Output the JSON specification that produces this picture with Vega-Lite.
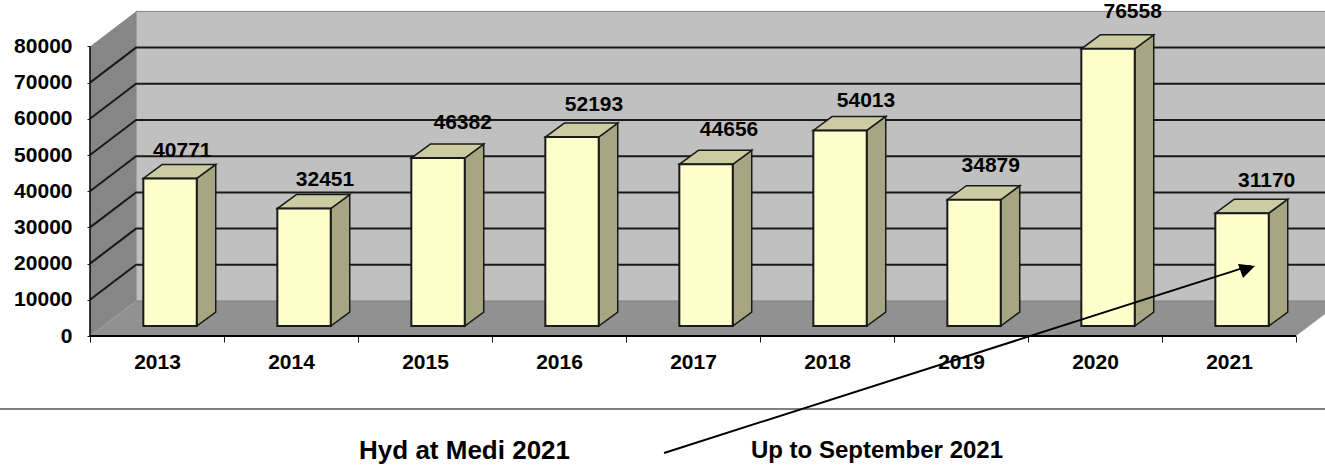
{
"$schema":"https://vega.github.io/schema/vega-lite/v6.json",
"width":1235,"height":336,
"autosize":{"type":"none"},
"padding":{"left":90,"top":0,"right":0,"bottom":131},
"background":"white",
"config":{"view":{"stroke":null},"text":{"font":"Liberation Sans"}},
"datasets":{
"bars":[{"year":2013,"x":0.398,"x2":0.7965,"y":40771,"y2":0},{"year":2014,"x":1.398,"x2":1.7965,"y":32451,"y2":0},{"year":2015,"x":2.398,"x2":2.7965,"y":46382,"y2":0},{"year":2016,"x":3.398,"x2":3.7965,"y":52193,"y2":0},{"year":2017,"x":4.398,"x2":4.7965,"y":44656,"y2":0},{"year":2018,"x":5.398,"x2":5.7965,"y":54013,"y2":0},{"year":2019,"x":6.398,"x2":6.7965,"y":34879,"y2":0},{"year":2020,"x":7.398,"x2":7.7965,"y":76558,"y2":0},{"year":2021,"x":8.398,"x2":8.7965,"y":31170,"y2":0}],
"sides":[
{"year":2013,"x":0.7965,"y":40771,"y2":0},{"year":2013,"x":0.9383,"y":44638,"y2":3867},
{"year":2014,"x":1.7965,"y":32451,"y2":0},{"year":2014,"x":1.9383,"y":36318,"y2":3867},
{"year":2015,"x":2.7965,"y":46382,"y2":0},{"year":2015,"x":2.9383,"y":50249,"y2":3867},
{"year":2016,"x":3.7965,"y":52193,"y2":0},{"year":2016,"x":3.9383,"y":56060,"y2":3867},
{"year":2017,"x":4.7965,"y":44656,"y2":0},{"year":2017,"x":4.9383,"y":48523,"y2":3867},
{"year":2018,"x":5.7965,"y":54013,"y2":0},{"year":2018,"x":5.9383,"y":57880,"y2":3867},
{"year":2019,"x":6.7965,"y":34879,"y2":0},{"year":2019,"x":6.9383,"y":38746,"y2":3867},
{"year":2020,"x":7.7965,"y":76558,"y2":0},{"year":2020,"x":7.9383,"y":80425,"y2":3867},
{"year":2021,"x":8.7965,"y":31170,"y2":0},{"year":2021,"x":8.9383,"y":35037,"y2":3867}],
"tops":[
{"year":2013,"y":40771,"x":0.398,"x2":0.7965},{"year":2013,"y":44638,"x":0.5398,"x2":0.9383},
{"year":2014,"y":32451,"x":1.398,"x2":1.7965},{"year":2014,"y":36318,"x":1.5398,"x2":1.9383},
{"year":2015,"y":46382,"x":2.398,"x2":2.7965},{"year":2015,"y":50249,"x":2.5398,"x2":2.9383},
{"year":2016,"y":52193,"x":3.398,"x2":3.7965},{"year":2016,"y":56060,"x":3.5398,"x2":3.9383},
{"year":2017,"y":44656,"x":4.398,"x2":4.7965},{"year":2017,"y":48523,"x":4.5398,"x2":4.9383},
{"year":2018,"y":54013,"x":5.398,"x2":5.7965},{"year":2018,"y":57880,"x":5.5398,"x2":5.9383},
{"year":2019,"y":34879,"x":6.398,"x2":6.7965},{"year":2019,"y":38746,"x":6.5398,"x2":6.9383},
{"year":2020,"y":76558,"x":7.398,"x2":7.7965},{"year":2020,"y":80425,"x":7.5398,"x2":7.9383},
{"year":2021,"y":31170,"x":8.398,"x2":8.7965},{"year":2021,"y":35037,"x":8.5398,"x2":8.9383}],
"grid":[
{"g":10000,"x":0,"y":10000},{"g":10000,"x":0.3433,"y":19669},{"g":10000,"x":9.3433,"y":19669},
{"g":20000,"x":0,"y":20000},{"g":20000,"x":0.3433,"y":29669},{"g":20000,"x":9.3433,"y":29669},
{"g":30000,"x":0,"y":30000},{"g":30000,"x":0.3433,"y":39669},{"g":30000,"x":9.3433,"y":39669},
{"g":40000,"x":0,"y":40000},{"g":40000,"x":0.3433,"y":49669},{"g":40000,"x":9.3433,"y":49669},
{"g":50000,"x":0,"y":50000},{"g":50000,"x":0.3433,"y":59669},{"g":50000,"x":9.3433,"y":59669},
{"g":60000,"x":0,"y":60000},{"g":60000,"x":0.3433,"y":69669},{"g":60000,"x":9.3433,"y":69669},
{"g":70000,"x":0,"y":70000},{"g":70000,"x":0.3433,"y":79669},{"g":70000,"x":9.3433,"y":79669}],
"labels":[
{"year":2013,"label":"40771","x":0.689,"y":51187},{"year":2014,"label":"32451","x":1.754,"y":43093},{"year":2015,"label":"46382","x":2.781,"y":58729},{"year":2016,"label":"52193","x":3.761,"y":63894},{"year":2017,"label":"44656","x":4.769,"y":56905},{"year":2018,"label":"54013","x":5.791,"y":65000},{"year":2019,"label":"34879","x":6.722,"y":46850},{"year":2020,"label":"76558","x":7.781,"y":89391},{"year":2021,"label":"31170","x":8.781,"y":42707}]
},
"encoding":{
"x":{"field":"x","type":"quantitative","scale":{"domain":[0,9.2164],"nice":false,"zero":false},
"axis":{"title":null,"grid":false,"domain":false,"values":[0,1,2,3,4,5,6,7,8,9],"ticks":true,"tickSize":6,"tickColor":"#1a1a1a","tickWidth":1,"labelOffset":67,"labelExpr":"datum.value<9 ? ''+(2013+datum.value) : ''","labelFont":"Liberation Sans","labelFontWeight":"bold","labelFontSize":21,"labelColor":"#000000","labelPadding":9,"labelBound":false,"labelFlush":false,"labelOverlap":false,"zindex":1}},
"y":{"field":"y","type":"quantitative","scale":{"domain":[0,92818],"nice":false,"zero":false},
"axis":{"title":null,"grid":false,"domain":false,"values":[0,10000,20000,30000,40000,50000,60000,70000,80000],"format":"d","tickSize":3,"tickColor":"#1a1a1a","tickWidth":1,"labelFont":"Liberation Sans","labelFontWeight":"bold","labelFontSize":21,"labelColor":"#000000","labelPadding":15,"labelOverlap":false,"zindex":1}}
},
"layer":[
{"data":{"values":[{"x":0,"x2":9,"y":0},{"x":0.3433,"x2":9.3433,"y":9669}]},"mark":{"type":"area","orient":"horizontal","fill":"#919191"},"encoding":{"x2":{"field":"x2"}}},
{"data":{"values":[{"x":0.3433,"x2":9.3433,"y":9669,"y2":89669}]},"mark":{"type":"rect","fill":"#c0c0c0","stroke":"#808080","strokeWidth":1},"encoding":{"x2":{"field":"x2"},"y2":{"field":"y2"}}},
{"data":{"values":[{"x":0,"y":80000,"y2":0},{"x":0.3433,"y":89669,"y2":9669}]},"mark":{"type":"area","fill":"#868686"},"encoding":{"y2":{"field":"y2"}}},
{"data":{"name":"grid"},"mark":{"type":"line","color":"#1a1a1a","strokeWidth":2},"encoding":{"detail":{"field":"g"}}},
{"data":{"values":[{"x":0,"y":0,"y2":80000}]},"mark":{"type":"rule","color":"#000000","strokeWidth":1.5},"encoding":{"y2":{"field":"y2"}}},
{"data":{"values":[{"x":0,"x2":9,"y":0}]},"mark":{"type":"rule","color":"#000000","strokeWidth":2},"encoding":{"x2":{"field":"x2"}}},
{"data":{"name":"sides"},"mark":{"type":"area","fill":"#a6a683","stroke":"#1a1a1a","strokeWidth":1.5,"yOffset":-10,"y2Offset":-10},"encoding":{"detail":{"field":"year"},"y2":{"field":"y2"}}},
{"data":{"name":"tops"},"mark":{"type":"area","orient":"horizontal","fill":"#cccca3","stroke":"#1a1a1a","strokeWidth":1.5,"yOffset":-10},"encoding":{"detail":{"field":"year"},"x2":{"field":"x2"}}},
{"data":{"name":"bars"},"mark":{"type":"rect","fill":"#ffffcc","stroke":"#1a1a1a","strokeWidth":2,"yOffset":-10,"y2Offset":-10},"encoding":{"x2":{"field":"x2"},"y2":{"field":"y2"}}},
{"data":{"name":"labels"},"mark":{"type":"text","font":"Liberation Sans","fontWeight":"bold","fontSize":21,"color":"#000000"},"encoding":{"text":{"field":"label"}}},
{"data":{"values":[{"x":-0.6716,"x2":9.2164,"y":-20166}]},"mark":{"type":"rule","color":"#808080","strokeWidth":2},"encoding":{"x2":{"field":"x2"}}},
{"data":{"values":[{"x":4.284,"y":-32320},{"x":8.66,"y":19440}]},"mark":{"type":"line","color":"#000000","strokeWidth":2}},
{"data":{"values":[{"x":8.5672,"y":19889,"y2":19889},{"x":8.6045,"y":19724,"y2":16022},{"x":8.694,"y":19337,"y2":19337}]},"mark":{"type":"area","fill":"#000000"},"encoding":{"y2":{"field":"y2"}}},
{"data":{"values":[{"label":"Hyd at Medi 2021","x":2.795,"y":-31900}]},"mark":{"type":"text","font":"Liberation Sans","fontWeight":"bold","fontSize":26,"color":"#000000"},"encoding":{"text":{"field":"label"}}},
{"data":{"values":[{"label":"Up to September 2021","x":5.873,"y":-31900}]},"mark":{"type":"text","font":"Liberation Sans","fontWeight":"bold","fontSize":24,"color":"#000000"},"encoding":{"text":{"field":"label"}}}
]
}
